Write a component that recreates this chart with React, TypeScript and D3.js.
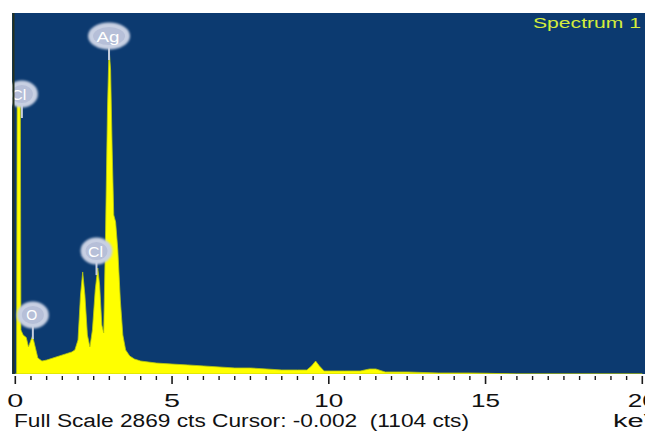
import React, { useEffect, useRef } from "react";
import * as d3 from "d3";

const W = 645;
const H = 432;
const plot = { left: 12, top: 13, right: 645, bottom: 374 };

// spectrum: energy (keV) and counts
const energy = [
  0, 0.04, 0.06, 0.16, 0.18, 0.25, 0.35, 0.42, 0.5, 0.55, 0.62, 0.72, 0.85,
  1.0, 1.2, 1.4, 1.6, 1.8, 1.9, 2.0, 2.08, 2.15, 2.22, 2.3, 2.38, 2.46, 2.55,
  2.63, 2.69, 2.76, 2.82, 2.88, 2.94, 2.99, 3.04, 3.09, 3.14, 3.2, 3.27, 3.35,
  3.43, 3.52, 3.65, 3.8, 4.0, 4.5, 5.0, 5.5, 6.0, 6.5, 7.0, 7.5, 8.0, 8.5,
  9.0, 9.3, 9.45, 9.58, 9.7, 9.85, 10.5, 11.0, 11.3, 11.5, 11.8, 12.5, 13.5,
  14.5, 15.0, 15.5, 16.0, 20.0,
];
const counts = [
  0, 0, 2217, 2217, 350, 310, 290, 215, 270, 302, 230, 127, 103, 111, 127,
  143, 159, 175, 191, 270, 628, 811, 628, 310, 215, 350, 668, 842, 707, 389,
  326, 1144, 2098, 2591, 2416, 1780, 1264, 1208, 985, 588, 310, 191, 143,
  119, 103, 87, 79, 72, 64, 56, 48, 48, 40, 32, 32, 32, 64, 103, 64, 24, 24,
  24, 40, 40, 16, 16, 8, 8, 6, 3, 0, 0,
];

// element labels
const peakNames = ["Cl", "O", "Ag", "Cl"];
const peakKeV = [0.21, 0.56, 2.99, 2.59];
const peakCts = [2225, 469, 2686, 977];

const fullScale = 2869;
const majorTicks = [0, 5, 10, 15, 20];
const footer = "Full Scale 2869 cts Cursor: -0.002  (1104 cts)";
const title = "Spectrum 1";

const font = "Liberation Sans, Arial, sans-serif";

const App = () => {
  const ref = useRef<SVGSVGElement>(null);

  useEffect(() => {
    const svg = d3.select(ref.current);
    svg.selectAll("*").remove();

    const x = d3.scaleLinear().domain([0, 20]).range([15.3, 642.3]);
    const y = d3
      .scaleLinear()
      .domain([0, fullScale])
      .range([plot.bottom, plot.top]);

    const defs = svg.append("defs");
    defs
      .append("clipPath")
      .attr("id", "plot-clip")
      .append("rect")
      .attr("x", plot.left)
      .attr("y", plot.top)
      .attr("width", plot.right - plot.left)
      .attr("height", plot.bottom - plot.top);
    const blur = defs.append("filter").attr("id", "soft");
    blur.append("feGaussianBlur").attr("stdDeviation", 0.9);

    svg
      .append("rect")
      .attr("width", W)
      .attr("height", H)
      .attr("fill", "#ffffff");

    // blue plot field
    svg
      .append("rect")
      .attr("x", plot.left)
      .attr("y", plot.top)
      .attr("width", plot.right - plot.left)
      .attr("height", plot.bottom - plot.top)
      .attr("fill", "#0c3a70");

    const g = svg.append("g").attr("clip-path", "url(#plot-clip)");

    const data = energy.map((e, i) => ({ e, c: counts[i] }));

    g.append("path")
      .datum(data)
      .attr("fill", "#ffff00")
      .attr("stroke", "#b8c810")
      .attr("stroke-width", 0.8)
      .attr(
        "d",
        d3
          .area<{ e: number; c: number }>()
          .x((d) => x(d.e))
          .y0(plot.bottom)
          .y1((d) => y(d.c))
      );

    // left axis line
    svg
      .append("line")
      .attr("x1", 13.5)
      .attr("x2", 13.5)
      .attr("y1", plot.top)
      .attr("y2", plot.bottom)
      .attr("stroke", "#24301c")
      .attr("stroke-width", 2);

    // peak labels
    peakNames.forEach((name, i) => {
      const cx = x(peakKeV[i]);
      const cy = y(peakCts[i]);
      const rx = name === "Ag" ? 21 : 16;
      const lg = g.append("g");
      lg.append("line")
        .attr("x1", cx)
        .attr("x2", cx)
        .attr("y1", cy + 10)
        .attr("y2", cy + 24)
        .attr("stroke", "#c6cee0")
        .attr("stroke-width", 2);
      lg.append("ellipse")
        .attr("cx", cx)
        .attr("cy", cy)
        .attr("rx", rx)
        .attr("ry", 13.5)
        .attr("fill", "#c8d0e3")
        .attr("filter", "url(#soft)");
      lg.append("ellipse")
        .attr("cx", cx)
        .attr("cy", cy)
        .attr("rx", rx - 5)
        .attr("ry", 9)
        .attr("fill", "#b6bfd8");
      lg.append("text")
        .attr("x", cx - (name === "Cl" && i === 0 ? 3 : 1))
        .attr("y", cy + 5.5)
        .attr("text-anchor", "middle")
        .attr("font-family", font)
        .attr("font-size", 15)
        .attr("fill", "#ffffff")
        .attr("textLength", name === "Ag" ? 23 : name === "O" ? 11 : 15)
        .attr("lengthAdjust", "spacingAndGlyphs")
        .text(name);
    });

    svg
      .append("text")
      .attr("x", 533)
      .attr("y", 28)
      .attr("font-family", font)
      .attr("font-size", 14)
      .attr("fill", "#d4ec3c")
      .attr("textLength", 108)
      .attr("lengthAdjust", "spacingAndGlyphs")
      .text(title);

    // x axis ticks
    const ax = svg.append("g");
    x.ticks(40).forEach((t) => {
      const major = majorTicks.includes(t);
      ax.append("line")
        .attr("x1", x(t))
        .attr("x2", x(t))
        .attr("y1", 376)
        .attr("y2", major ? 384 : 380)
        .attr("stroke", "#1a1a1a")
        .attr("stroke-width", major ? 1.6 : 1.4);
    });
    majorTicks.forEach((t) => {
      ax.append("text")
        .attr("x", x(t))
        .attr("y", 407)
        .attr("text-anchor", "middle")
        .attr("font-family", font)
        .attr("font-size", 18)
        .attr("fill", "#111")
        .attr("textLength", t < 10 ? 16 : 29)
        .attr("lengthAdjust", "spacingAndGlyphs")
        .text(t);
    });

    svg
      .append("text")
      .attr("x", 14)
      .attr("y", 427)
      .attr("font-family", font)
      .attr("font-size", 18)
      .attr("fill", "#111")
      .attr("textLength", 455)
      .attr("lengthAdjust", "spacingAndGlyphs")
      .style("white-space", "pre")
      .text(footer);

    svg
      .append("text")
      .attr("x", 613)
      .attr("y", 427)
      .attr("font-family", font)
      .attr("font-size", 18)
      .attr("fill", "#111")
      .attr("textLength", 50)
      .attr("lengthAdjust", "spacingAndGlyphs")
      .text("keV");
  }, []);

  return (
    <div style={{ position: "absolute", left: 0, top: 0 }}>
      <svg ref={ref} width={W} height={H} style={{ display: "block" }} />
    </div>
  );
};

export default App;
